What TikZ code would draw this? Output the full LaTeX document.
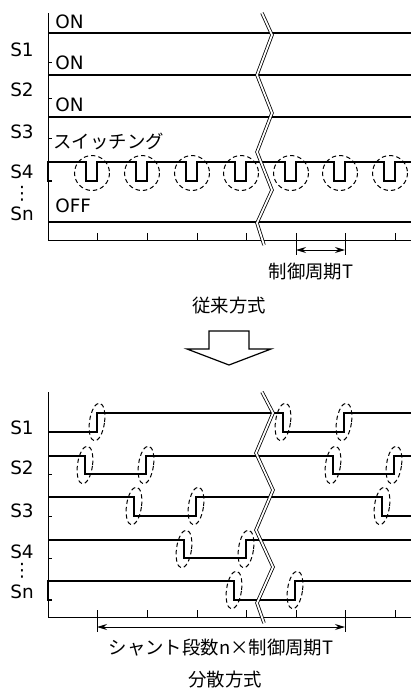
\documentclass[tikz,border=0pt]{standalone}
\usepackage{fontspec}
\setmainfont{Noto Sans CJK JP}
\newfontfamily\latinfont{DejaVu Sans}
\usetikzlibrary{arrows.meta}

\begin{document}
\begin{tikzpicture}[
  x=0.5pt, y=-0.5pt,
  sig/.style={line width=1.1pt},
  axis/.style={line width=0.5pt},
  ring/.style={line width=0.5pt, dash pattern=on 2.2pt off 1.5pt},
  brk/.style={line width=0.4pt, double=white, double distance=0.9pt},
  lbl/.style={font=\fontsize{9.2}{10}\selectfont, inner sep=0pt},
  lat/.style={font=\latinfont\fontsize{9.2}{10}\selectfont, inner sep=0pt},
  dim/.style={axis, {Stealth[length=5pt,width=3pt]}-{Stealth[length=5pt,width=3pt]}}
]
  \useasboundingbox (0,0) rectangle (411,691);

  % conventional
  \draw[axis] (48,13) -- (48,240) -- (411,240);
  \foreach \x in {97,147,197,246,296,345,395}
    \draw[axis] (\x,240) -- (\x,233);
  \foreach \y in {33,75,117,222}
    \draw[sig] (48,\y) -- (411,\y);
  \foreach \y in {62,98,138}
    \draw[axis] (48,\y) -- (52,\y);
  \draw[sig] (52,181) -- (48,181) -- (48,162)
    \foreach \x in {97,147,197,246,296,345,395} { -- (\x-11,162) -- (\x-11,181) -- (\x,181) -- (\x,162) }
    -- (411,162);
  \foreach \x in {97,147,197,246,296,345,395}
    \draw[ring] (\x-5,173) circle [radius=17.5];
  \draw[brk] (262,13) -- (272,35) -- (257,75) -- (272,113) -- (257,152) -- (272,190) -- (257,223) -- (264,245);

  \node[lat] (s1a) at (22,50) {S1};
  \node[lat] (s2a) at (22,90) {S2};
  \node[lat] (s3a) at (22,132) {S3};
  \node[lat] (s4a) at (22,172) {S4};
  \node[lat] (dta) at (22,194) {⋮};
  \node[lat] (sna) at (22,214) {Sn};
  \node[lat, anchor=west] (on1) at (55,22) {ON};
  \node[lat, anchor=west] (on2) at (55,63) {ON};
  \node[lat, anchor=west] (on3) at (55,105) {ON};
  \node[lbl, anchor=west] (sw) at (53,141) {スイッチング};
  \node[lat, anchor=west] (off) at (55,206) {OFF};

  \coordinate (ta) at (296,250);
  \coordinate (tb) at (345,250);
  \draw[axis] (296,240) -- (296,255) (345,240) -- (345,255);
  \draw[dim] (ta) -- (tb);
  \node[lbl] (tper) at (311,272) {制御周期T};
  \node[lbl] (old) at (229,306) {従来方式};

  \draw[line width=0.6pt] (209,331) -- (249,331) -- (249,349) -- (271,349) -- (229,365) -- (187,349) -- (209,349) -- cycle;

  % distributed
  \draw[axis] (48,392) -- (48,617) -- (411,617);
  \foreach \x in {147,197,246,296,395}
    \draw[axis] (\x,617) -- (\x,610);
  \draw[axis] (97,610) -- (97,632) (345,610) -- (345,632);
  \foreach \y in {474,516,558}
    \draw[axis] (48,\y) -- (52,\y);
  \draw[sig] (48,432) -- (97,432) -- (97,413) -- (283,413) -- (283,432) -- (344,432) -- (344,413) -- (411,413);
  \draw[sig] (48,456) -- (85,456) -- (85,474) -- (146,474) -- (146,456) -- (333,456) -- (333,474) -- (394,474) -- (394,456) -- (411,456);
  \draw[sig] (48,497) -- (134,497) -- (134,516) -- (196,516) -- (196,497) -- (382,497) -- (382,516) -- (411,516);
  \draw[sig] (48,540) -- (184,540) -- (184,558) -- (246,558) -- (246,540) -- (411,540);
  \draw[sig] (52,600) -- (48,600) -- (48,581) -- (234,581) -- (234,600) -- (295,600) -- (295,581) -- (411,581);
  \foreach \x/\y in {97/422,283/422,344/422,85/465,146/465,333/465,394/465,134/506,196/506,382/506,184/549,246/549,234/590,295/590}
    \draw[ring, rotate around={-8:(\x,\y)}] (\x,\y) ellipse [x radius=7.5, y radius=19];
  \draw[brk] (262,392) -- (273,413) -- (256,453) -- (273,490) -- (256,530) -- (273,567) -- (257,603) -- (264,623);

  \node[lat] (s1b) at (22,428) {S1};
  \node[lat] (s2b) at (22,468) {S2};
  \node[lat] (s3b) at (22,511) {S3};
  \node[lat] (s4b) at (22,552) {S4};
  \node[lat] (dtb) at (22,571) {⋮};
  \node[lat] (snb) at (22,592) {Sn};

  \coordinate (na) at (97,627);
  \coordinate (nb) at (345,627);
  \draw[dim] (na) -- (nb);
  \node[lbl] (nper) at (221,648) {シャント段数n×制御周期T};
  \node[lbl] (new) at (225,680) {分散方式};
\end{tikzpicture}
\end{document}
